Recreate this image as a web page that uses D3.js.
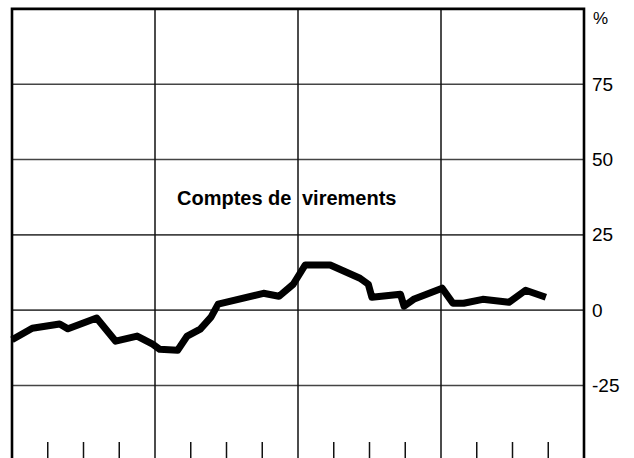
<!DOCTYPE html>
<html>
<head>
<meta charset="utf-8">
<script src="https://cdn.jsdelivr.net/npm/d3@7"></script>
<style>
  body { margin: 0; background: #fff; }
  text { font-family: "Liberation Sans", Arial, Helvetica, sans-serif; fill: #000; }
</style>
</head>
<body>
<svg id="drawing" width="634" height="458"></svg>
<script>
// month position (0 = first month of the chart) and value in %
var mois    = [0, 1.7, 4.0, 4.7, 7.1, 8.7, 10.5, 11.8, 12.4, 13.9, 14.7, 15.8, 16.7, 17.3,
               21.1, 22.4, 23.6, 24.6, 26.7, 29.2, 29.9, 30.2, 32.6, 32.9, 33.7, 36.1,
               37.0, 37.9, 39.5, 41.7, 43.1, 44.8];
var valeurs = [-9.8, -6.0, -4.6, -6.2, -2.6, -10.3, -8.6, -11.3, -13.0, -13.3, -8.6, -6.3, -2.3, 2.0,
               5.6, 4.6, 8.6, 15.0, 15.0, 10.6, 8.6, 4.3, 5.3, 1.3, 3.6, 7.3,
               2.3, 2.3, 3.6, 2.6, 6.6, 4.3];

var yTicks = [75, 50, 25, 0, -25];
var yearLines = [12, 24, 36];
var quarterTicks = [3, 6, 9, 15, 18, 21, 27, 30, 33, 39, 42, 45];
var titre = ["Comptes de", "virements"];

var svg = d3.select("#drawing");

var x = d3.scaleLinear().domain([0, 48]).range([12, 584]);
var y = d3.scaleLinear().domain([-50, 100]).range([460.8, 8.9]);

// horizontal grid
svg.append("g").selectAll("line")
  .data(yTicks)
  .enter().append("line")
  .attr("x1", x(0)).attr("x2", x(48))
  .attr("y1", function(d){ return y(d); })
  .attr("y2", function(d){ return y(d); })
  .attr("stroke", "#444")
  .attr("stroke-width", 1.6);

// year separators
svg.append("g").selectAll("line")
  .data(yearLines)
  .enter().append("line")
  .attr("x1", function(d){ return x(d); })
  .attr("x2", function(d){ return x(d); })
  .attr("y1", y(100)).attr("y2", 458)
  .attr("stroke", "#111")
  .attr("stroke-width", 1.5);

// quarter ticks at bottom
svg.append("g").selectAll("line")
  .data(quarterTicks)
  .enter().append("line")
  .attr("x1", function(d){ return x(d); })
  .attr("x2", function(d){ return x(d); })
  .attr("y1", 442).attr("y2", 458)
  .attr("stroke", "#111")
  .attr("stroke-width", 1.5);

// frame: top, left, right
svg.append("path")
  .attr("d", "M" + x(0) + ",458V" + y(100) + "H" + x(48) + "V458")
  .attr("fill", "none")
  .attr("stroke", "#000")
  .attr("stroke-width", 2.6);

// right axis labels
var yAxis = d3.axisRight(y).tickValues(yTicks).tickSize(0).tickPadding(8)
  .tickFormat(function(d){ return d; });
var ga = svg.append("g")
  .attr("transform", "translate(" + x(48) + ",0)")
  .call(yAxis);
ga.select(".domain").remove();
ga.selectAll("text")
  .style("font-family", "Liberation Sans, Arial, sans-serif")
  .style("font-size", "19px")
  .attr("fill", "#000");

svg.append("text")
  .attr("x", 593).attr("y", 24)
  .style("font-size", "17px")
  .text("%");

// title inside plot, split either side of the year line
var t = svg.append("text")
  .attr("y", 205)
  .style("font-size", "20px")
  .style("font-weight", "bold");
t.append("tspan").attr("x", 177).text(titre[0]);
t.append("tspan").attr("x", 302).text(titre[1]);

// series line
var line = d3.line()
  .x(function(d, i){ return x(mois[i]); })
  .y(function(d){ return y(d); });

svg.append("path")
  .datum(valeurs)
  .attr("d", line)
  .attr("fill", "none")
  .attr("stroke", "#000")
  .attr("stroke-width", 7)
  .attr("stroke-linejoin", "round");
</script>
</body>
</html>
